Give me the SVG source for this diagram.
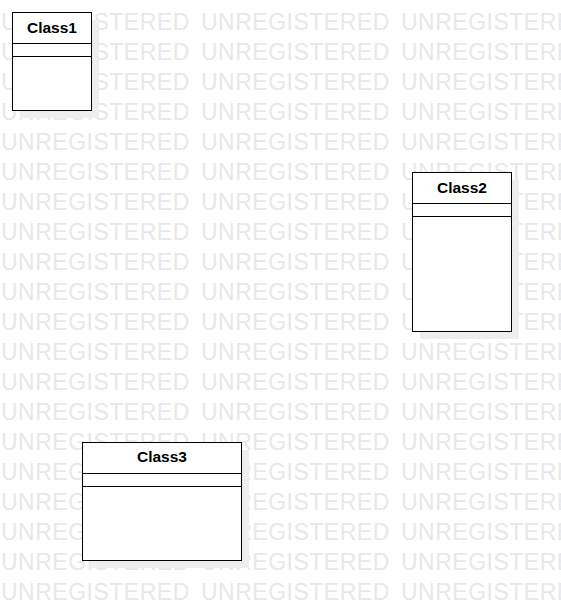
<svg xmlns="http://www.w3.org/2000/svg" width="561" height="611" viewBox="0 0 561 611">
<style>
.wm{font-family:"Liberation Sans",Arial,sans-serif;font-size:23px;letter-spacing:0.5px;fill:#e8e8e8}
.box{fill:#fff;stroke:#000;stroke-width:1}
.sh{fill:#eeeeee}
.ln{stroke:#000;stroke-width:1}
.t{font-family:"Liberation Sans",Arial,sans-serif;font-size:15.5px;font-weight:bold;fill:#000;text-anchor:middle}
</style>
<rect width="561" height="611" fill="#fff"/>
<defs>
<text id="row" class="wm"><tspan x="1">UNREGISTERED</tspan><tspan x="201">UNREGISTERED</tspan><tspan x="401">UNREGISTERED</tspan></text>
</defs>
<g id="watermark">
<use href="#row" y="29.5"/><use href="#row" y="59.5"/><use href="#row" y="89.5"/><use href="#row" y="119.5"/><use href="#row" y="149.5"/>
<use href="#row" y="179.5"/><use href="#row" y="209.5"/><use href="#row" y="239.5"/><use href="#row" y="269.5"/><use href="#row" y="299.5"/>
<use href="#row" y="329.5"/><use href="#row" y="359.5"/><use href="#row" y="389.5"/><use href="#row" y="419.5"/><use href="#row" y="449.5"/>
<use href="#row" y="479.5"/><use href="#row" y="509.5"/><use href="#row" y="539.5"/><use href="#row" y="569.5"/><use href="#row" y="599.5"/>
</g>
<g id="connectors"></g>
<g id="Class1">
<rect class="sh" x="20" y="20" width="79" height="98"/>
<rect class="box" x="12.5" y="12.5" width="79" height="98"/>
<line class="ln" x1="12.5" y1="43.5" x2="91.5" y2="43.5"/>
<line class="ln" x1="12.5" y1="56.5" x2="91.5" y2="56.5"/>
<text class="t" x="52" y="33">Class1</text>
</g>
<g id="Class2">
<rect class="sh" x="420" y="180" width="99" height="159"/>
<rect class="box" x="412.5" y="172.5" width="99" height="159"/>
<line class="ln" x1="412.5" y1="203.5" x2="511.5" y2="203.5"/>
<line class="ln" x1="412.5" y1="216.5" x2="511.5" y2="216.5"/>
<text class="t" x="462" y="193">Class2</text>
</g>
<g id="Class3">
<rect class="sh" x="90" y="450" width="159" height="118"/>
<rect class="box" x="82.5" y="442.5" width="159" height="118"/>
<line class="ln" x1="82.5" y1="473.5" x2="241.5" y2="473.5"/>
<line class="ln" x1="82.5" y1="486.5" x2="241.5" y2="486.5"/>
<text class="t" x="162" y="462">Class3</text>
</g>
</svg>
